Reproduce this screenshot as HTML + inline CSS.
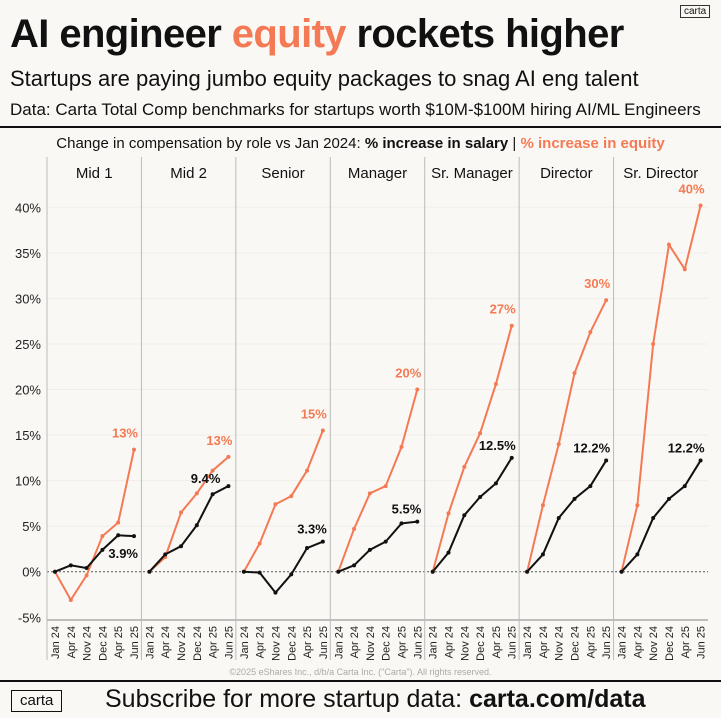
<!DOCTYPE html>
<html><head><meta charset="utf-8"><style>
body{margin:0;background:#faf8f4;font-family:"Liberation Sans",sans-serif;}
#wrap{position:relative;width:721px;height:718px;overflow:hidden;background:#faf8f4;}
.t{position:absolute;white-space:nowrap;color:#111;}
</style></head><body>
<div id="wrap">
<div class="t" style="left:10px;top:12px;font-size:40px;font-weight:bold;letter-spacing:-0.6px">AI engineer <span style="color:#f47a55">equity</span> rockets higher</div>
<div class="t" style="left:10px;top:66px;font-size:22px">Startups are paying jumbo equity packages to snag AI eng talent</div>
<div class="t" style="left:10px;top:100px;font-size:17px">Data: Carta Total Comp benchmarks for startups worth $10M-$100M hiring AI/ML Engineers</div>
<div class="t" style="left:680px;top:5px;font-size:10px;border:1px solid #333;padding:0 3px">carta</div>
<div style="position:absolute;left:0;top:126px;width:721px;height:2px;background:#111"></div>
<div class="t" style="left:0;width:721px;text-align:center;top:135px;font-size:15px">Change in compensation by role vs Jan 2024: <b>% increase in salary</b> | <b style="color:#f47a55">% increase in equity</b></div>
<svg id="chart" width="721" height="718" style="position:absolute;left:0;top:0"></svg>
<div class="t" style="left:0;width:721px;text-align:center;top:667px;font-size:9px;color:#aaa">©2025 eShares Inc., d/b/a Carta Inc. ("Carta"). All rights reserved.</div>
<div style="position:absolute;left:0;top:680px;width:721px;height:2px;background:#111"></div>
<div class="t" style="left:11px;top:690px;font-size:15px;border:1.5px solid #111;padding:0 8px;line-height:20px">carta</div>
<div class="t" style="left:105px;top:685px;font-size:25px">Subscribe for more startup data: <b>carta.com/data</b></div>
</div>
<script>
const roles=["Mid 1","Mid 2","Senior","Manager","Sr. Manager","Director","Sr. Director"];
const months=["Jan 24","Apr 24","Nov 24","Dec 24","Apr 25","Jun 25"];
const yTicks=[-5,0,5,10,15,20,25,30,35,40];
const equity=[[0,-3.1,-0.4,3.9,5.4,13.4],[0,1.6,6.5,8.6,11.1,12.6],[0,3.1,7.4,8.3,11.1,15.5],[0,4.7,8.6,9.4,13.7,20],[0,6.4,11.5,15.2,20.6,27],[0,7.3,14,21.8,26.3,29.8],[0,7.3,25,35.9,33.2,40.2]];
const salary=[[0,0.7,0.4,2.4,4.0,3.9],[0,1.9,2.8,5.1,8.5,9.4],[0,-0.1,-2.3,-0.3,2.6,3.3],[0,0.7,2.4,3.3,5.3,5.5],[0,2.1,6.2,8.2,9.7,12.5],[0,1.9,5.9,8.0,9.4,12.2],[0,1.9,5.9,8.0,9.4,12.2]];
const equityLabels=["13%","13%","15%","20%","27%","30%","40%"];
const salaryLabels=["3.9%","9.4%","3.3%","5.5%","12.5%","12.2%","12.2%"];
const svg=document.getElementById('chart');const NS="http://www.w3.org/2000/svg";
function mk(t,a,p){const e=document.createElementNS(NS,t);for(const k in a)e.setAttribute(k,a[k]);(p||svg).appendChild(e);return e;}
const L=47,R=708,pw=(R-L)/roles.length;
const y=v=>571.7-v*9.11;
const x=(p,i)=>L+p*pw+8+i*15.8;
yTicks.forEach(v=>{
 const t=mk('text',{x:41,y:y(v)+5,'text-anchor':'end','font-size':13,fill:'#222'});t.textContent=v+'%';
 
 
 if(v>0){const g=mk('line',{x1:L,x2:R,y1:y(v),y2:y(v),stroke:'#f1eee9','stroke-width':1});
 
 }
});
const z=mk('line',{x1:L,x2:R,y1:y(0),y2:y(0),stroke:'#555','stroke-width':1,'stroke-dasharray':'2,2'});


const ax=mk('line',{x1:L,x2:R,y1:620,y2:620,stroke:'#aaa','stroke-width':1.5});


roles.forEach((r,p)=>{
 const sx=L+p*pw;
 const s=mk('line',{x1:sx,x2:sx,y1:157,y2:660,stroke:'#bbb','stroke-width':1});
 
 
 const h=mk('text',{x:sx+pw/2,y:178,'text-anchor':'middle','font-size':15,fill:'#111'});h.textContent=r;
 
 
 months.forEach((m,i)=>{const t=mk('text',{transform:`translate(${x(p,i)+4},626) rotate(-90)`,'text-anchor':'end','font-size':11,fill:'#222'});t.textContent=m;
  
  });
 [[equity[p],'#f47a55','equity'],[salary[p],'#111','salary']].forEach(([d,c,n])=>{
  const pl=mk('polyline',{points:d.map((v,i)=>x(p,i)+','+y(v)).join(' '),fill:'none',stroke:c,'stroke-width':2});
  
  
  d.forEach((v,i)=>{const ci=mk('circle',{cx:x(p,i),cy:y(v),r:2,fill:c});
   
   });
 });
 const e=equity[p],sa=salary[p];
 const el=mk('text',{x:x(p,5)+4,y:y(e[5])-12,'text-anchor':'end','font-size':13,'font-weight':'bold',fill:'#f47a55'});el.textContent=equityLabels[p];
 
 
 let sy=y(sa[5])-8,sxx=x(p,5)+4;
 if(p===0){sy=y(sa[5])+22;sxx=x(p,5)+4;}
 if(p===1){sy=y(sa[5])-3;sxx=x(p,5)-8;}
 const sl=mk('text',{x:sxx,y:sy,'text-anchor':'end','font-size':13,'font-weight':'bold',fill:'#111'});sl.textContent=salaryLabels[p];
 
 
});
</script>
</body></html>
